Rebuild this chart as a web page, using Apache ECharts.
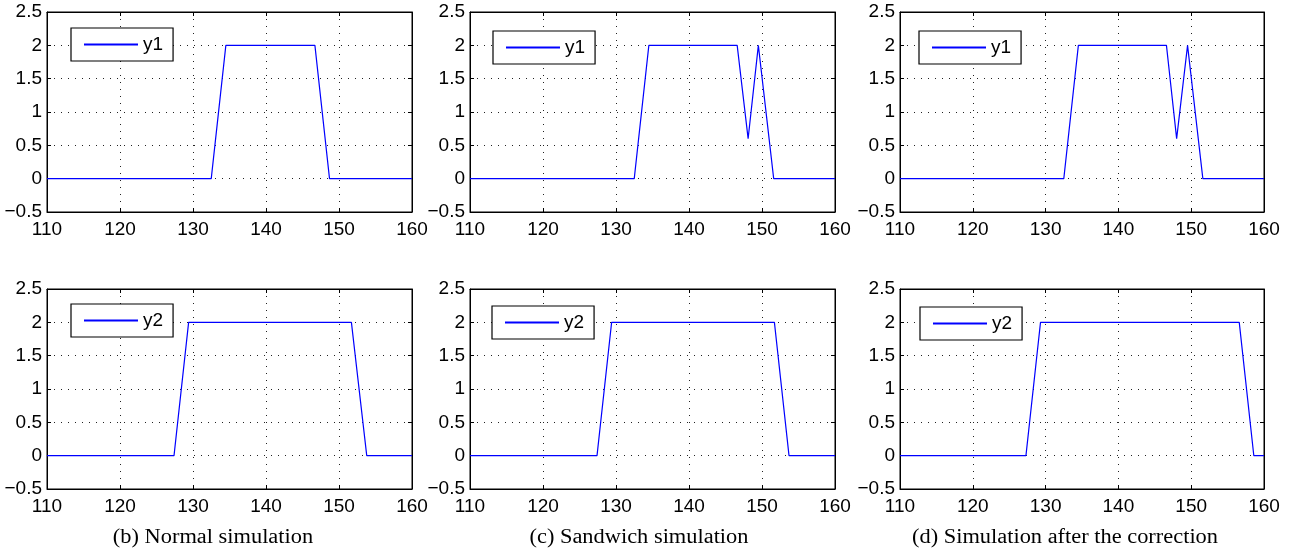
<!DOCTYPE html>
<html>
<head>
<meta charset="utf-8">
<script src="https://cdn.jsdelivr.net/npm/echarts@6/dist/echarts.min.js"></script>
<style>
html,body{margin:0;padding:0;background:#fff;}
#c{width:1292px;height:554px;}
</style>
</head>
<body>
<div id="c"></div>
<script>
// ---- data ----
var captions = ['(b) Normal simulation', '(c) Sandwich simulation', '(d) Simulation after the correction'];
var xTickValues = [110, 120, 130, 140, 150, 160];
var yTickValues = [-0.5, 0, 0.5, 1, 1.5, 2, 2.5];

// top row: y1
var y1NormalX    = [110, 132.5, 134.5, 146.7, 148.7, 160];
var y1NormalY    = [0,   0,     2,     2,     0,     0];
var y1SandwichX  = [110, 132.5, 134.5, 146.6, 148.1, 149.5, 151.6, 160];
var y1SandwichY  = [0,   0,     2,     2,     0.6,   2,     0,     0];
var y1CorrectedX = [110, 132.5, 134.5, 146.6, 148.0, 149.5, 151.6, 160];
var y1CorrectedY = [0,   0,     2,     2,     0.6,   2,     0,     0];
// bottom row: y2
var y2NormalX    = [110, 127.4, 129.4, 151.7, 153.8, 160];
var y2NormalY    = [0,   0,     2,     2,     0,     0];
var y2SandwichX  = [110, 127.4, 129.4, 151.7, 153.7, 160];
var y2SandwichY  = [0,   0,     2,     2,     0,     0];
var y2CorrectedX = [110, 127.3, 129.3, 156.6, 158.6, 160];
var y2CorrectedY = [0,   0,     2,     2,     0,     0];

function zip(xs, ys) { return xs.map(function (x, i) { return [x, ys[i]]; }); }

var panels = [
  {name: 'y1', key: 'y1|b', x: y1NormalX,    y: y1NormalY,    left: 47,  top: 12,  width: 365, legend: [71, 28]},
  {name: 'y1', key: 'y1|c', x: y1SandwichX,  y: y1SandwichY,  left: 470, top: 12,  width: 365, legend: [493, 31]},
  {name: 'y1', key: 'y1|d', x: y1CorrectedX, y: y1CorrectedY, left: 900, top: 12,  width: 364, legend: [919, 31]},
  {name: 'y2', key: 'y2|b', x: y2NormalX,    y: y2NormalY,    left: 47,  top: 289, width: 365, legend: [71, 304]},
  {name: 'y2', key: 'y2|c', x: y2SandwichX,  y: y2SandwichY,  left: 470, top: 289, width: 365, legend: [492, 306]},
  {name: 'y2', key: 'y2|d', x: y2CorrectedX, y: y2CorrectedY, left: 900, top: 289, width: 364, legend: [920, 307]}
];

var FONT = 'Liberation Sans';
var BLUE = '#0000ff';
var grids = [], xAxes = [], yAxes = [], series = [], legends = [];
var gridLine = {show: true, lineStyle: {color: '#222', width: 1, type: [1, 6]}};
var yFmt = function (v) { return String(v).replace('-', '\u2212'); };

panels.forEach(function (p, i) {
  grids.push({left: p.left, top: p.top, width: p.width, height: 200, show: true,
              borderColor: '#000', borderWidth: 1, backgroundColor: '#fff', containLabel: false});
  xAxes.push({type: 'value', gridIndex: i, min: xTickValues[0], max: xTickValues[xTickValues.length - 1],
    interval: 10, position: 'bottom',
    axisLine: {show: true, onZero: false, lineStyle: {color: '#000', width: 1}},
    axisTick: {show: true, inside: true, length: 4, lineStyle: {color: '#000'}},
    axisLabel: {show: true, color: '#000', fontFamily: FONT, fontSize: 19, margin: 8},
    splitLine: gridLine});
  xAxes.push({type: 'value', gridIndex: i, min: xTickValues[0], max: xTickValues[xTickValues.length - 1],
    interval: 10, position: 'top',
    axisLine: {show: true, onZero: false, lineStyle: {color: '#000', width: 1}},
    axisTick: {show: true, inside: true, length: 4, lineStyle: {color: '#000'}},
    axisLabel: {show: false}, splitLine: {show: false}});
  yAxes.push({type: 'value', gridIndex: i, min: yTickValues[0], max: yTickValues[yTickValues.length - 1],
    interval: 0.5, position: 'left',
    axisLine: {show: true, onZero: false, lineStyle: {color: '#000', width: 1}},
    axisTick: {show: true, inside: true, length: 4, lineStyle: {color: '#000'}},
    axisLabel: {show: true, color: '#000', fontFamily: FONT, fontSize: 19, margin: 5, formatter: yFmt},
    splitLine: gridLine});
  yAxes.push({type: 'value', gridIndex: i, min: yTickValues[0], max: yTickValues[yTickValues.length - 1],
    interval: 0.5, position: 'right',
    axisLine: {show: true, onZero: false, lineStyle: {color: '#000', width: 1}},
    axisTick: {show: true, inside: true, length: 4, lineStyle: {color: '#000'}},
    axisLabel: {show: false}, splitLine: {show: false}});
  series.push({type: 'line', name: p.key, xAxisIndex: 2 * i, yAxisIndex: 2 * i,
    data: zip(p.x, p.y), symbol: 'none', showSymbol: false, animation: false,
    color: BLUE, lineStyle: {color: BLUE, width: 1.2}, itemStyle: {color: BLUE}, z: 5});
  legends.push({data: [p.key], left: p.legend[0], top: p.legend[1],
    orient: 'horizontal',
    formatter: function (n) { return n.split('|')[0]; },
    backgroundColor: '#fff', borderColor: '#000', borderWidth: 1.2, borderRadius: 0,
    padding: [7, 10, 7, 12], itemWidth: 54, itemHeight: 18, itemGap: 5,
    itemStyle: {opacity: 0, borderWidth: 0},
    selectedMode: false, textStyle: {color: '#000', fontFamily: FONT, fontSize: 19}});
});

var captionCenters = [213, 639, 1065];
var graphics = captions.map(function (t, i) {
  return {type: 'text', x: captionCenters[i], y: 538, scaleX: 1.12, scaleY: 1,
    style: {text: t, font: '20px "Liberation Serif"', fill: '#000', align: 'center', verticalAlign: 'middle'}};
});

var chart = echarts.init(document.getElementById('c'), null, {renderer: 'canvas'});
chart.setOption({
  animation: false,
  color: [BLUE],
  backgroundColor: '#fff',
  grid: grids, xAxis: xAxes, yAxis: yAxes, series: series, legend: legends,
  graphic: graphics
});
</script>
</body>
</html>
